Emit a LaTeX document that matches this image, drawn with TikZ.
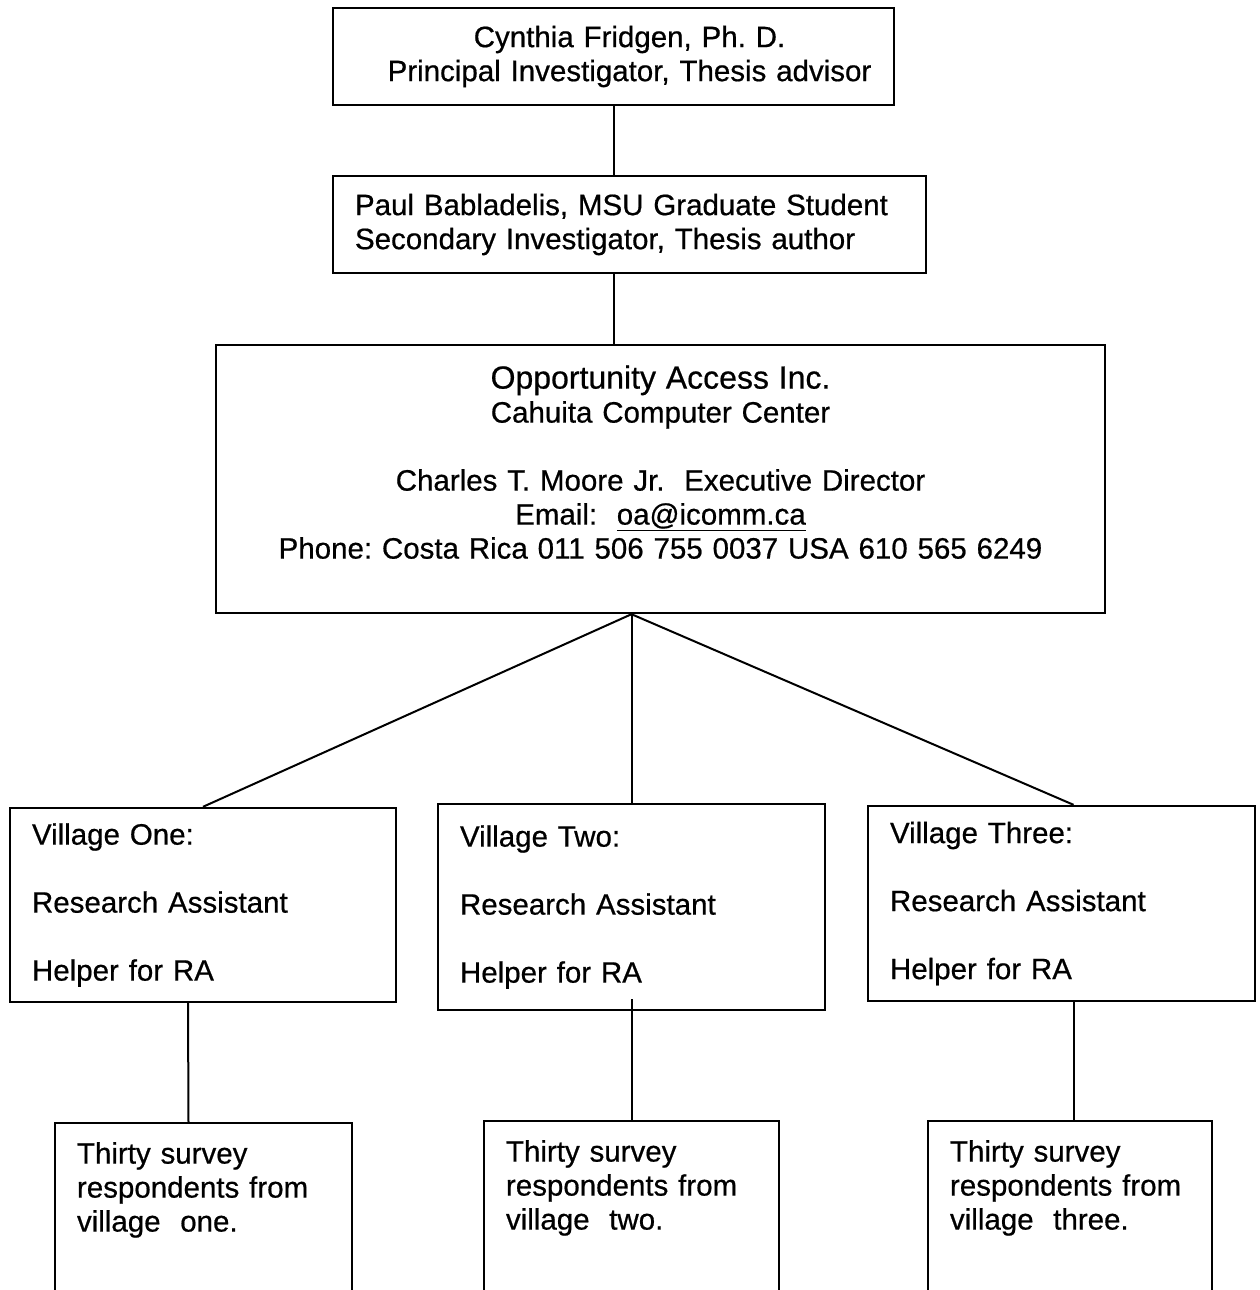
\documentclass[tikz,border=0pt]{standalone}
\usepackage{fontspec}
\setmainfont{Liberation Sans}
\newfontfamily\boxfont[FakeBold=0.6]{Liberation Sans}
\tikzset{
  box/.style={draw,line width=2.4pt,inner xsep=22pt,inner ysep=0pt,
    font=\boxfont\fontsize{29.5}{34}\selectfont},
  link/.style={line width=2pt}
}

\begin{document}
\frenchspacing
\begin{tikzpicture}[x=1pt,y=-1pt]
    \useasboundingbox (0,0) rectangle (1259,1290);

    \node [box, minimum width=561pt, minimum height=97pt, text width=517pt, align=center] (cf) at (613.5,56.5)
      {\hspace*{32pt}Cynthia Fridgen, Ph. D.\\\hspace*{32pt}Principal Investigator, Thesis advisor};
    \node [box, minimum width=593pt, minimum height=97pt, text width=549pt, align=left] (pb) at (629.5,224.5)
      {Paul Babladelis, MSU Graduate Student\\Secondary Investigator, Thesis author};
    \node [box, minimum width=889pt, minimum height=268pt, text width=845pt, align=center] (oa) at (660.5,479)
      {{\fontsize{32}{34}\selectfont Opportunity Access Inc.}\\Cahuita Computer Center\\[34pt]
       Charles T. Moore Jr.\ \ Executive Director\\Email:\ \ \underline{oa@icomm.ca}\\
       Phone: Costa Rica 011 506 755 0037 USA 610 565 6249\\\mbox{}};

    \node [box, minimum width=386pt, minimum height=194pt, text width=342pt, align=left] (v1) at (203,905)
      {Village One:\\[34pt]Research Assistant\\[34pt]Helper for RA};
    \node [box, minimum width=387pt, minimum height=206pt, text width=343pt, align=left] (v2) at (631.5,907)
      {Village Two:\\[34pt]Research Assistant\\[34pt]Helper for RA};
    \node [box, minimum width=387pt, minimum height=195pt, text width=343pt, align=left] (v3) at (1061.5,903.5)
      {Village Three:\\[34pt]Research Assistant\\[34pt]Helper for RA};

    \node [box, anchor=north, text width=253pt, align=left, inner ysep=19pt, text depth=250pt] (r1) at (203.5,1122)
      {Thirty survey\\respondents from\\village\ \ one.};
    \node [box, anchor=north, text width=251pt, align=left, inner ysep=19pt, text depth=250pt] (r2) at (631.5,1120)
      {Thirty survey\\respondents from\\village\ \ two.};
    \node [box, anchor=north, text width=240pt, align=left, inner ysep=19pt, text depth=250pt] (r3) at (1070,1120)
      {Thirty survey\\respondents from\\village\ \ three.};

    \draw [link] (cf.south) -- (cf.south |- pb.north);
    \draw [link] (cf.south |- pb.south) -- (cf.south |- oa.north);

    \coordinate (hub) at (v2.north |- oa.south);
    \draw [link] (hub) -- (v1.north);
    \draw [link] (hub) -- (v2.north);
    \draw [link] (hub) -- ([xshift=12pt]v3.north);

    \draw [link] ([xshift=-15pt]v1.south) -- ([xshift=-15pt]r1.north);
    \draw [link] ([yshift=12pt]v2.south) -- (r2.north);
    \draw [link] ([xshift=12pt]v3.south) -- ([xshift=12pt]v3.south |- r3.north);
  \end{tikzpicture}
\end{document}
